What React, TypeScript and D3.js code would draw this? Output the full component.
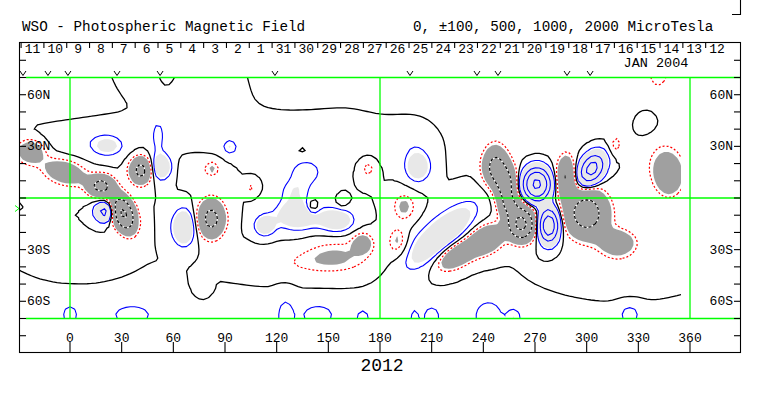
import React, { useEffect, useRef } from 'react';
import * as d3 from 'd3';

// magnetic sources: [lon, lat, peak µT, width lon, width lat, tilt°]
const positiveSources = [
  [20, -8, 650, 3.5, 3.5, 0],
  [53, 18, 330, 4, 5, 0],
  [51, 36, 120, 3, 8, 0],
  [22, 30, 160, 6, 4, 0],
  [66, -17, 380, 4.5, 7, 0],
  [93, 29, 130, 3, 3, 0],
  [113, -16, 300, 4, 4, 0],
  [132, -10, 300, 9, 6, 0],
  [155, -13, 280, 7, 5, 0],
  [137, 15, 140, 8, 6, 0],
  [130, 4, 120, 7, 5, 0],
  [202, 18, 280, 5, 6, 0],
  [215, -22, 330, 18, 6.5, 42],
  [271, 8, 2300, 4.5, 5.5, 0],
  [278, -16, 1600, 3.5, 6, 0],
  [303, 17, 1300, 4, 6, -30],
];

const negativeSources = [
  [-23, 27, -300, 6, 5, 0],
  [-3, 15, -320, 9, 5, -15],
  [18, 7, -650, 5, 4, 0],
  [31, -9, -1100, 4, 7, 20],
  [41, 16, -650, 4, 5, 0],
  [82, -12, -650, 5, 7, 0],
  [83, 17, -130, 2.5, 3, 0],
  [141, -5, -200, 2.5, 3, 0],
  [158, -3, -90, 2.5, 2.5, 0],
  [170, -26, -240, 4, 4, 0],
  [155, -32, -120, 14, 7, 0],
  [173, 17, -140, 3, 4, 0],
  [194, -5, -180, 5, 6, 0],
  [190, -25, -170, 4, 6, 0],
  [247, 18, -650, 4.5, 7, 0],
  [253, 8, -650, 4, 7, 0],
  [225, -33, -400, 9, 4.5, 30],
  [242, -24, -450, 7, 5, 30],
  [262, -15, -1200, 5, 6, 0],
  [255, -4, -450, 4, 5, 0],
  [288, 12, -500, 3.5, 8, 0],
  [300, -9, -750, 8, 9, 0],
  [318, -26, -350, 7, 5, 0],
  [348, 12, -320, 5, 7, 0],
  [345, 20, -150, 8, 10, 0],
  [342, 74, -130, 4, 6, 0],
  [317, 31, -140, 2.5, 4, 0],
];

// weak large-scale background field
const backgroundSources = [
  [150, -85, 70, 300, 14, 0],
  [0, -67, 110, 4, 5, 0],
  [36, -67, 110, 10, 5, 0],
  [125, -66, 105, 4, 8, 0],
  [144, -67, 110, 8, 5, 0],
  [170, -69, 105, 3, 4, 0],
  [200, -69, 105, 2, 4, 0],
  [210, -68, 110, 4, 5, 0],
  [243, -66, 105, 8, 8, 0],
  [258, -69, 105, 3, 4, 0],
  [325, -67, 110, 5, 5, 0],
  [-10, 62, -90, 20, 10, 0],
  [40, 72, 70, 9, 8, 0],
  [56, 74, -120, 3, 5, 0],
  [82, 64, 70, 16, 10, 0],
  [135, 68, -90, 20, 10, 0],
  [186, 68, -80, 14, 12, 0],
  [250, 55, -90, 30, 16, 0],
  [322, 62, -70, 25, 12, 0],
  [254, 45, 60, 2.5, 3, 0],
  [334, 45, 90, 4.5, 5, 0],
  [150, 38, 70, 35, 9, 0],
  [198, 35, 60, 10, 9, 0],
  [10, 34, 70, 20, 8, 0],
  [135, 28, -60, 3, 2.5, 0],
  [105, 6, -120, 2.5, 2.5, 0],
  [80, 38, 60, 15, 8, 0],
  [76, 17, -80, 8, 6, 0],
  [140, -38, -90, 25, 6, 0],
  [77, -51, -80, 3, 4, 0],
  [320, -45, -80, 20, 8, 0],
  [5, -35, -60, 12, 6, 0],
];

const dayLabels = ['11', '10', '9', '8', '7', '6', '5', '4', '3', '2', '1', '31', '30', '29', '28', '27',
  '26', '25', '24', '23', '22', '21', '20', '19', '18', '17', '16', '15', '14', '13', '12'];
const firstDayLon = -28.4;
const degPerDay = 13.25;
const observationLons = [-27.3, -12.8, -1.2, 27.3, 52.3, 119, 197.4, 236.3, 248.5, 288.6, 302];
const lonTicks = [0, 30, 60, 90, 120, 150, 180, 210, 240, 270, 300, 330, 360];
const latTicks = [80, 70, 60, 50, 40, 30, 20, 10, 0, -10, -20, -30, -40, -50, -60, -70, -80];
const latLabels: [number, string][] = [[60, '60N'], [30, '30N'], [-30, '30S'], [-60, '60S']];
const b0Angle = -6.1;
const positiveLevels = [100, 500, 1000, 2000];
const negativeLevels = [500, 1000, 2000];
const shadeLevel = 150;

const App = () => {
  const svgRef = useRef<SVGSVGElement>(null);

  useEffect(() => {
    const svg = d3.select(svgRef.current);
    svg.selectAll('*').remove();
    const font = '"Liberation Mono", "DejaVu Sans Mono", monospace';

    const x = d3.scaleLinear().domain([0, 360]).range([70, 690]);
    const y = d3.scaleLinear().domain([-70, 70]).range([318.5, 77.5]);

    // field on a grid
    const step = 2.5;
    const lon0 = -35, lon1 = 362.5, lat0 = -75, lat1 = 75;
    const nx = Math.round((lon1 - lon0) / step) + 1;
    const ny = Math.round((lat1 - lat0) / step) + 1;
    const sources = [...positiveSources, ...negativeSources, ...backgroundSources];
    const field = new Float64Array(nx * ny);
    for (let j = 0; j < ny; j++) {
      const lat = lat1 - j * step;
      for (let i = 0; i < nx; i++) {
        const lon = lon0 + i * step;
        let v = 0;
        for (const [sl, sb, amp, sx, sy, tilt] of sources) {
          const t = (tilt * Math.PI) / 180;
          const dx = lon - sl, dy = lat - sb;
          const u = dx * Math.cos(t) + dy * Math.sin(t);
          const w = -dx * Math.sin(t) + dy * Math.cos(t);
          v += amp * Math.exp(-0.5 * ((u * u) / (sx * sx) + (w * w) / (sy * sy)));
        }
        field[j * nx + i] = v;
      }
    }
    const negField = field.map((v) => -v);

    const proj = d3.geoTransform({
      point(px, py) {
        this.stream.point(x(lon0 + (px - 0.5) * step), y(lat1 - (py - 0.5) * step));
      },
    });
    const path = d3.geoPath(proj);
    const contours = d3.contours().size([nx, ny]);

    svg.append('defs').append('clipPath').attr('id', 'map-clip')
      .append('rect').attr('x', 20).attr('y', 77.5).attr('width', 661).attr('height', 241);

    const map = svg.append('g').attr('clip-path', 'url(#map-clip)');

    map.append('path').attr('d', path(contours.contour(negField, shadeLevel))).attr('fill', '#a0a0a0');
    map.append('path').attr('d', path(contours.contour(field, shadeLevel))).attr('fill', '#e8e8e8');

    negativeLevels.forEach((lv) => {
      const d = path(contours.contour(negField, lv));
      map.append('path').attr('d', d).attr('fill', 'none').attr('stroke', '#fff').attr('stroke-width', 1.2);
      map.append('path').attr('d', d).attr('fill', 'none').attr('stroke', '#000').attr('stroke-width', 1.2)
        .attr('stroke-dasharray', '3,2');
    });
    map.append('path').attr('d', path(contours.contour(negField, 100)))
      .attr('fill', 'none').attr('stroke', '#ff0000').attr('stroke-width', 1.2).attr('stroke-dasharray', '2,2');
    positiveLevels.forEach((lv) => {
      map.append('path').attr('d', path(contours.contour(field, lv)))
        .attr('fill', 'none').attr('stroke', '#0000ff').attr('stroke-width', 1.1);
    });
    map.append('path').attr('d', path(contours.contour(field, 0)))
      .attr('fill', 'none').attr('stroke', '#000').attr('stroke-width', 1.3);

    // green reference lines
    const green = svg.append('g').attr('stroke', '#00ff00').attr('stroke-width', 1.3);
    green.append('line').attr('x1', 26).attr('x2', 740).attr('y1', y(70)).attr('y2', y(70));
    green.append('line').attr('x1', 26).attr('x2', 740).attr('y1', y(-70)).attr('y2', y(-70));
    green.append('line').attr('x1', 20).attr('x2', 740).attr('y1', y(0)).attr('y2', y(0));
    [0, 180, 360].forEach((l) => {
      green.append('line').attr('x1', x(l)).attr('x2', x(l)).attr('y1', y(70)).attr('y2', y(-70));
    });
    green.append('path')
      .attr('d', `M15,${y(b0Angle) - 3}L19,${y(b0Angle)}L15,${y(b0Angle) + 3}`)
      .attr('fill', 'none').attr('stroke-width', 1);

    // frame
    const ax = svg.append('g').attr('stroke', '#000').attr('fill', 'none').attr('stroke-width', 1.1);
    ax.append('rect').attr('x', 19.5).attr('y', 42.5).attr('width', 721).attr('height', 310);
    ax.append('path').attr('d', 'M732,14.5H740.5V0');

    latTicks.forEach((b) => {
      ax.append('line').attr('x1', 20).attr('x2', 26).attr('y1', y(b)).attr('y2', y(b));
      ax.append('line').attr('x1', 734).attr('x2', 740).attr('y1', y(b)).attr('y2', y(b));
    });
    lonTicks.forEach((l) => {
      ax.append('line').attr('x1', x(l)).attr('x2', x(l)).attr('y1', 342).attr('y2', 352);
    });
    dayLabels.forEach((_, k) => {
      const px = x(firstDayLon + k * degPerDay);
      ax.append('line').attr('x1', px).attr('x2', px).attr('y1', 43).attr('y2', 48);
    });
    observationLons.forEach((l) => {
      ax.append('path').attr('d', `M${x(l) - 3},71L${x(l)},75.5L${x(l) + 3},71`).attr('stroke-width', 1);
    });

    const txt = svg.append('g').attr('font-family', font).attr('fill', '#000');
    txt.append('text').attr('x', 22).attr('y', 31).attr('font-size', 14.3)
      .text('WSO - Photospheric Magnetic Field');
    txt.append('text').attr('x', 413).attr('y', 31).attr('font-size', 14.3)
      .text('0, ±100, 500, 1000, 2000 MicroTesla');
    dayLabels.forEach((d, k) => {
      txt.append('text').attr('x', x(firstDayLon + (k + 0.5) * degPerDay)).attr('y', 53)
        .attr('text-anchor', 'middle').attr('font-size', 13).text(d);
    });
    txt.append('text').attr('x', 656).attr('y', 67).attr('text-anchor', 'middle')
      .attr('font-size', 13.5).text('JAN 2004');
    latLabels.forEach(([b, s]) => {
      txt.append('text').attr('x', 27).attr('y', y(b) + 4).attr('font-size', 13).text(s);
      txt.append('text').attr('x', 733).attr('y', y(b) + 4).attr('text-anchor', 'end').attr('font-size', 13).text(s);
    });
    lonTicks.forEach((l) => {
      txt.append('text').attr('x', x(l)).attr('y', 341.5).attr('text-anchor', 'middle')
        .attr('font-size', 13).text(String(l));
    });
    txt.append('text').attr('x', 382).attr('y', 371).attr('text-anchor', 'middle')
      .attr('font-size', 18).text('2012');
  }, []);

  return (
    <svg ref={svgRef} width={763} height={396}
      style={{ position: 'absolute', left: 0, top: 0, background: '#fff' }} />
  );
};

export default App;
